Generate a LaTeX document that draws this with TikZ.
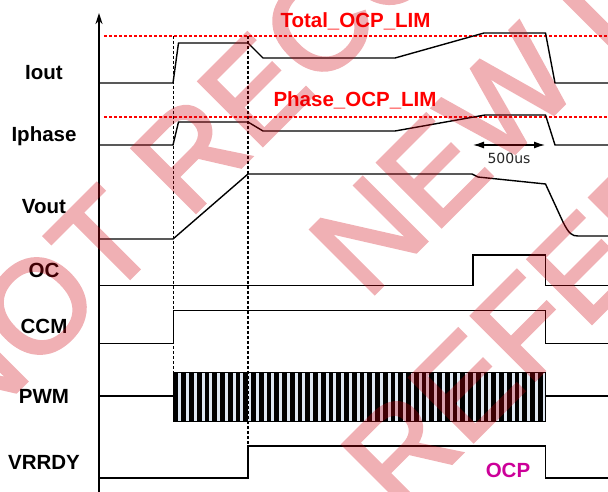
\documentclass[tikz,border=0pt]{standalone}
\usepackage{fontspec}
\setmainfont{Liberation Sans}
\newfontfamily\durfont{DejaVu Sans}
\newfontfamily\wmfont[FakeBold=2.5]{Liberation Sans}
\usepackage{tikz}
\usetikzlibrary{arrows.meta}

\definecolor{limred}{RGB}{255,0,0}
\definecolor{ocpmag}{RGB}{204,0,153}
\definecolor{wmred}{RGB}{206,0,13}
\definecolor{pwmlight}{RGB}{222,231,242}

\begin{document}
\begin{tikzpicture}[x=1pt, y=-1pt,
    wave/.style={line width=1.4pt, black},
    limit/.style={line width=1.3pt, limred, dash pattern=on 3pt off 2pt},
    marker/.style={line width=1.5pt, black, dash pattern=on 3pt off 2pt},
    siglabel/.style={font=\fontsize{20.5}{24}\selectfont\bfseries, anchor=base, inner sep=0pt},
    wmark/.style={font=\wmfont\fontsize{131}{131}\selectfont, text=wmred,
      anchor=base west, rotate=45, inner sep=0pt}]
  \useasboundingbox (0,0) rectangle (608,492);

  % Axis
  \draw[line width=1.8pt, -{Stealth[length=11pt,width=7pt]}] (99,492) -- (99,13);

  % Signal names
  \node[siglabel] (iout)   at (44,80)  {Iout};
  \node[siglabel] (iphase) at (44,142) {Iphase};
  \node[siglabel] (vout)   at (44,213) {Vout};
  \node[siglabel] (oc)     at (44,277) {OC};
  \node[siglabel] (ccm)    at (44,333) {CCM};
  \node[siglabel] (pwm)    at (44,403) {PWM};
  \node[siglabel] (vrrdy)  at (44,469) {VRRDY};

  % Limits
  \draw[limit] (104,36) -- (608,36);
  \draw[limit] (104,117) -- (608,117);
  \node[siglabel, text=limred] (totlim) at (355.5,27.5) {Total\_OCP\_LIM};
  \node[siglabel, text=limred] (phlim)  at (355,106.5) {Phase\_OCP\_LIM};

  % Iout
  \draw[wave] (99,83) -- (173,83) -- (178.5,43) -- (248,43) -- (263,58) -- (395,58)
    -- (484,33) -- (545.5,33) -- (555,83) -- (608,83);

  % Iphase
  \draw[wave] (99,145) -- (173,145) -- (178.5,122) -- (248,122) -- (263,131) -- (395,131)
    -- (485,115) -- (545.5,115) -- (555,145) -- (608,145);

  % 500us window
  \coordinate (tl) at (473,145);
  \coordinate (tr) at (545,145);
  \draw[line width=1.3pt, {Latex[length=11pt,width=7pt]}-{Latex[length=11pt,width=7pt]}] (tl) -- (tr);
  \node[font=\durfont\fontsize{14}{16}\selectfont, anchor=base, inner sep=0pt, text=black!85] (dur) at (509,164) {500us};

  % Vout
  \draw[wave] (99,239) -- (173,239) -- (248,174) -- (472,174) -- (478,177) -- (545.5,184)
    -- (563,222) .. controls (569,234) and (572,236) .. (578,236) -- (608,236);

  % OC
  \draw[wave] (99,285.5) -- (473,285.5) -- (473,255) -- (545.5,255) -- (545.5,285.5) -- (608,285.5);

  % CCM
  \draw[wave] (99,343.5) -- (173.5,343.5) -- (173.5,310.5) -- (545.5,310.5) -- (545.5,343.5) -- (608,343.5);

  % PWM
  \draw[wave] (99,396) -- (173.5,396);
  \draw[wave] (545.5,396) -- (608,396);
  \fill[pwmlight] (173.5,372.5) rectangle (545.5,421.5);
  \foreach \i in {0,...,47}
    \fill[black] ({173.5+\i*7.75},372.5) rectangle ++(4.8,49);
  \draw[line width=1.8pt] (173.5,372.5) rectangle (545.5,421.5);

  % VRRDY
  \draw[wave] (99,478) -- (248,478) -- (248,446) -- (545.5,446) -- (545.5,478) -- (608,478);
  \node[siglabel, text=ocpmag] (ocp) at (508,477.5) {OCP};

  % Time markers
  \draw[marker] (173.5,36) -- (173.5,372.5);
  \draw[marker] (248,36) -- (248,446);

  % Watermark
  \begin{scope}[transparency group, opacity=0.31]
    \clip (0,0) rectangle (608,492);
    \node[wmark] (wm1) at (-33,441) {NOT RECOMMENDED};
    \node[wmark] (wm2) at (367,301) {NEW DESIGNS};
    \node[wmark] (wm3) at (399,516) {REFER TO};
  \end{scope}
\end{tikzpicture}
\end{document}
